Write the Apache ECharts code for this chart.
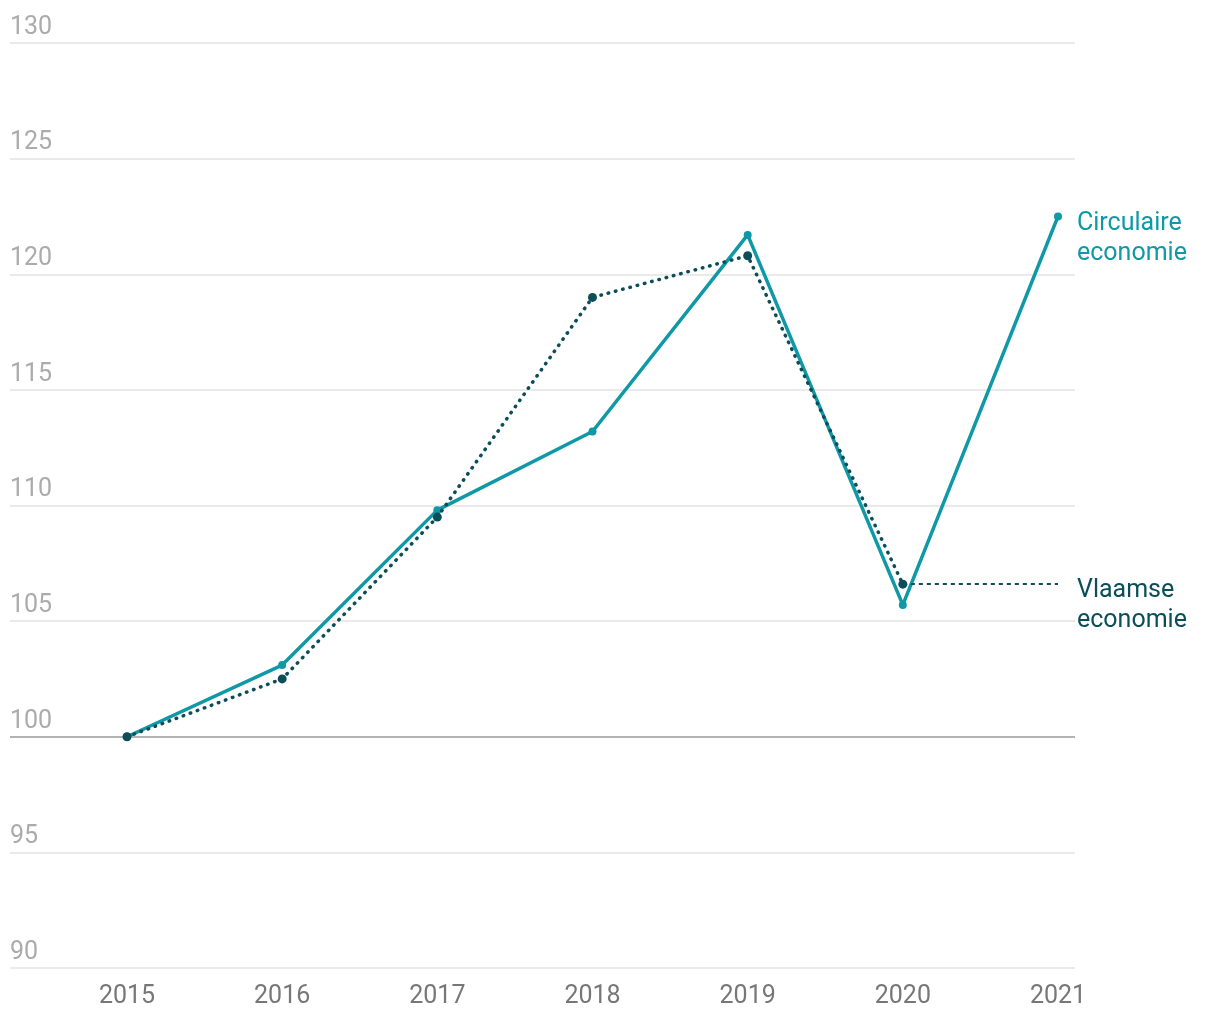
<!DOCTYPE html>
<html>
<head>
<meta charset="utf-8">
<script src="https://cdn.jsdelivr.net/npm/echarts@6/dist/echarts.min.js"></script>
<style>
  html, body { margin: 0; padding: 0; background: #fff; }
  #chart { width: 1220px; height: 1020px; }
</style>
</head>
<body>
<div id="chart"></div>
<script>
// jaren
var years = ['2015', '2016', '2017', '2018', '2019', '2020', '2021'];
// index 2015 = 100
var circulair = [100, 103.1, 109.8, 113.2, 121.7, 105.7, 122.5];
var vlaams = [100, 102.5, 109.5, 119.0, 120.8, 106.6];
// y-as
var yMin = 90, yMax = 130, yStep = 5;

var teal = '#0f98a6';
var dark = '#0b4e5a';
var font = 'Roboto';

// lichte rasterlijnen, lijn op 100 donkerder
var gridColors = [];
for (var v = yMin; v <= yMax; v += yStep) {
  gridColors.push(v === 100 ? '#9a9a9a' : '#e3e3e3');
}

var chart = echarts.init(document.getElementById('chart'));
chart.setOption({
  animation: false,
  textStyle: { fontFamily: font },
  grid: [
    // raster + y-labels, volle breedte
    { left: 10, right: 145, top: 43, bottom: 52 },
    // data
    { left: 127, right: 162, top: 43, bottom: 52 }
  ],
  xAxis: [
    { gridIndex: 0, type: 'category', data: years, show: false },
    {
      gridIndex: 1,
      type: 'category',
      data: years,
      boundaryGap: false,
      axisLine: { show: false },
      axisTick: { show: false },
      axisLabel: { color: '#777', fontSize: 25, margin: 16, fontFamily: font }
    }
  ],
  yAxis: [
    {
      gridIndex: 0,
      type: 'value',
      min: yMin,
      max: yMax,
      interval: yStep,
      axisLine: { show: false },
      axisTick: { show: false },
      axisLabel: {
        inside: true,
        margin: 0,
        align: 'left',
        verticalAlign: 'bottom',
        padding: [0, 0, 3, 0],
        color: '#ababab',
        fontSize: 25,
        fontFamily: font
      },
      splitLine: { lineStyle: { color: gridColors, width: 1.5 } }
    },
    {
      gridIndex: 1,
      type: 'value',
      min: yMin,
      max: yMax,
      interval: yStep,
      show: false,
      splitLine: { show: false }
    }
  ],
  series: [
    {
      name: 'Circulaire economie',
      type: 'line',
      xAxisIndex: 1,
      yAxisIndex: 1,
      data: circulair,
      symbol: 'circle',
      symbolSize: 8,
      itemStyle: { color: teal },
      lineStyle: { color: teal, width: 3.5 },
      endLabel: {
        show: true,
        formatter: 'Circulaire\neconomie',
        color: teal,
        fontSize: 25,
        lineHeight: 30,
        fontFamily: font,
        distance: 19,
        offset: [0, 22]
      },
      z: 2
    },
    {
      name: 'Vlaamse economie',
      type: 'line',
      xAxisIndex: 1,
      yAxisIndex: 1,
      data: vlaams,
      symbol: 'circle',
      symbolSize: 9,
      itemStyle: { color: dark },
      lineStyle: { color: dark, width: 3.5, type: [0.5, 7], cap: 'round' },
      markLine: {
        silent: true,
        symbol: 'none',
        lineStyle: { color: dark, width: 2, type: [4, 4] },
        label: {
          show: true,
          position: 'end',
          formatter: 'Vlaamse\neconomie',
          color: dark,
          fontSize: 25,
          lineHeight: 30,
          fontFamily: font,
          distance: 19,
          align: 'left',
          offset: [0, 22]
        },
        data: [[
          { xAxis: years[vlaams.length - 1], yAxis: vlaams[vlaams.length - 1] },
          { xAxis: years[years.length - 1], yAxis: vlaams[vlaams.length - 1] }
        ]]
      },
      z: 3
    }
  ]
});
</script>
</body>
</html>
